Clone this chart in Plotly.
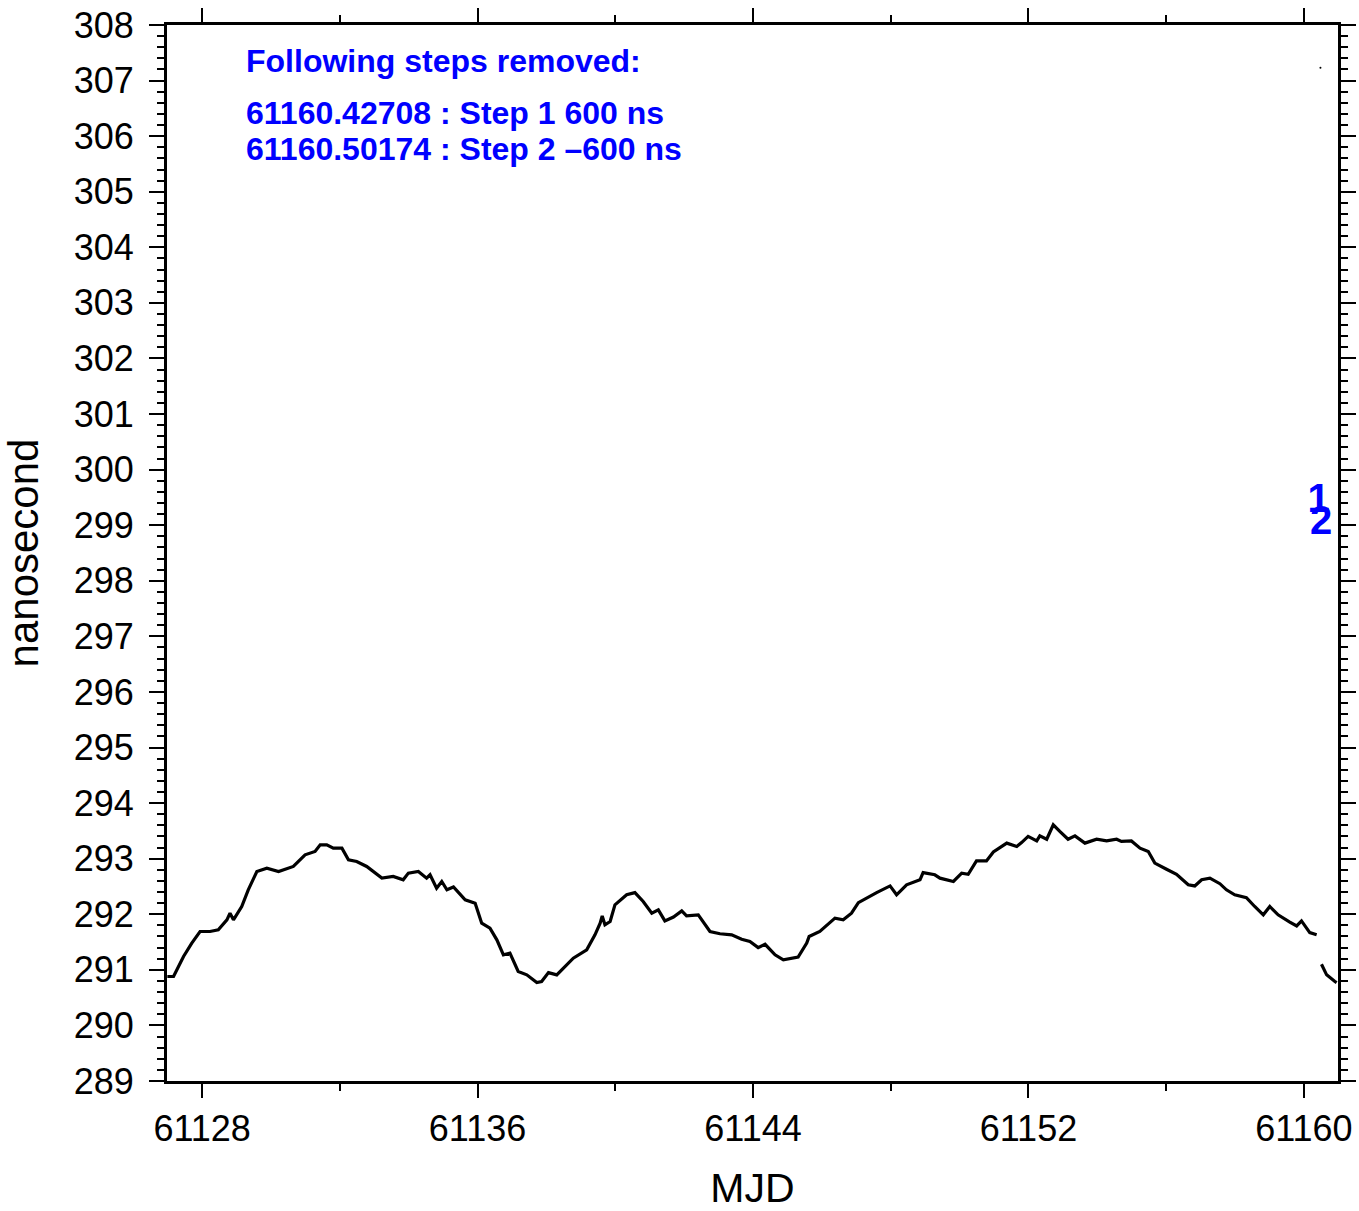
import plotly.graph_objects as go

# ---- data ----
seg1_mjd = [61126.99, 61127.17, 61127.46, 61127.70, 61127.94, 61128.23, 61128.47, 61128.72, 61128.81, 61128.91,
            61129.15, 61129.34, 61129.59, 61129.88, 61130.22, 61130.65, 61130.99, 61131.28, 61131.43, 61131.62,
            61131.81, 61132.06, 61132.25, 61132.49, 61132.78, 61133.22, 61133.55, 61133.84, 61133.99, 61134.28,
            61134.52, 61134.62, 61134.81, 61134.96, 61135.11, 61135.30, 61135.64, 61135.93, 61136.12, 61136.36,
            61136.56, 61136.75, 61136.94, 61137.18, 61137.43, 61137.72, 61137.86, 61138.06, 61138.30, 61138.54,
            61138.78, 61139.17, 61139.41, 61139.56, 61139.62, 61139.70, 61139.85, 61139.99, 61140.33, 61140.57,
            61140.81, 61141.06, 61141.25, 61141.44, 61141.69, 61141.93, 61142.07, 61142.41, 61142.75, 61143.04,
            61143.38, 61143.67, 61143.91, 61144.15, 61144.35, 61144.64, 61144.88, 61145.31, 61145.56, 61145.63,
            61145.94, 61146.38, 61146.62, 61146.86, 61147.06, 61147.59, 61147.98, 61148.17, 61148.46, 61148.85,
            61148.94, 61149.28, 61149.43, 61149.82, 61150.06, 61150.25, 61150.49, 61150.78, 61150.98, 61151.37,
            61151.66, 61151.80, 61151.99, 61152.24, 61152.33, 61152.53, 61152.72, 61152.91, 61153.15, 61153.35,
            61153.64, 61153.98, 61154.27, 61154.56, 61154.70, 61154.99, 61155.24, 61155.48, 61155.67, 61156.01,
            61156.30, 61156.64, 61156.83, 61157.03, 61157.27, 61157.56, 61157.75, 61157.99, 61158.33, 61158.57,
            61158.82, 61159.01, 61159.25, 61159.59, 61159.79, 61159.93, 61160.17, 61160.37]
seg1_ns = [290.88, 290.88, 291.24, 291.48, 291.69, 291.69, 291.72, 291.90, 292.02, 291.90,
           292.14, 292.44, 292.77, 292.83, 292.77, 292.86, 293.07, 293.13, 293.25, 293.25,
           293.19, 293.19, 292.98, 292.95, 292.86, 292.65, 292.68, 292.62, 292.74, 292.77,
           292.65, 292.71, 292.47, 292.59, 292.44, 292.49, 292.26, 292.20, 291.84, 291.75,
           291.54, 291.27, 291.30, 290.97, 290.91, 290.77, 290.79, 290.95, 290.91, 291.06,
           291.21, 291.36, 291.63, 291.84, 291.97, 291.81, 291.87, 292.17, 292.35, 292.39,
           292.23, 292.02, 292.08, 291.88, 291.95, 292.06, 291.97, 291.99, 291.69, 291.65,
           291.63, 291.55, 291.51, 291.40, 291.46, 291.27, 291.18, 291.23, 291.48, 291.60,
           291.69, 291.93, 291.90, 292.02, 292.21, 292.39, 292.51, 292.35, 292.53, 292.62,
           292.75, 292.71, 292.65, 292.59, 292.74, 292.72, 292.96, 292.96, 293.12, 293.28,
           293.22, 293.29, 293.40, 293.32, 293.41, 293.35, 293.61, 293.49, 293.35, 293.41,
           293.28, 293.35, 293.32, 293.35, 293.31, 293.32, 293.19, 293.13, 292.92, 292.81,
           292.72, 292.53, 292.51, 292.62, 292.65, 292.55, 292.44, 292.35, 292.30, 292.14,
           291.99, 292.14, 291.99, 291.86, 291.79, 291.88, 291.67, 291.63]

seg2_mjd = [61160.51, 61160.66, 61160.90, 61160.95]
seg2_ns = [291.10, 290.91, 290.79, 290.77]

# single isolated point between the two steps
iso_mjd = [61160.48]
iso_ns = [307.23]

step_mjd = [61160.42708, 61160.50174]
step_ns = [600, -600]
step_ids = ["1", "2"]
step_label_y = [299.42, 299.02]

x_range = [61126.98, 61160.99]
y_range = [289, 308]
x_tick0, x_dtick = 61128, 8
y_dtick = 1

FONT = "Liberation Sans, Arial, Helvetica, sans-serif"
BLUE = "#0000ff"

fig = go.Figure()
fig.add_trace(go.Scatter(x=seg1_mjd, y=seg1_ns, mode="lines",
                         line=dict(color="black", width=3.2), showlegend=False, hoverinfo="skip"))
fig.add_trace(go.Scatter(x=seg2_mjd, y=seg2_ns, mode="lines",
                         line=dict(color="black", width=3.2), showlegend=False, hoverinfo="skip"))
fig.add_trace(go.Scatter(x=iso_mjd, y=iso_ns, mode="markers",
                         marker=dict(color="black", size=2), showlegend=False, hoverinfo="skip"))
fig.add_trace(go.Scatter(x=step_mjd, y=step_label_y, mode="text", text=[f"<b>{s}</b>" for s in step_ids],
                         textfont=dict(family=FONT, size=40, color=BLUE), textposition="middle center",
                         showlegend=False, hoverinfo="skip"))

lines = ["<b>Following steps removed:</b>"]
for m, s, v in zip(step_mjd, step_ids, step_ns):
    vs = f"{v}" if v >= 0 else f"\u2013{abs(v)}"
    lines.append(f"<b>{m:.5f} : Step {s} {vs} ns</b>")

ann_y = [0.9659, 0.9167, 0.8826]
for txt, yy in zip(lines, ann_y):
    fig.add_annotation(x=0.066, y=yy, xref="paper", yref="paper", text=txt,
                       showarrow=False, xanchor="left", yanchor="middle",
                       font=dict(family=FONT, size=32, color=BLUE))

fig.update_xaxes(range=x_range, tick0=x_tick0, dtick=x_dtick, ticks="outside", ticklen=14, tickwidth=2,
                 tickcolor="black", showline=True, linewidth=3, linecolor="black", mirror="ticks",
                 showgrid=False, zeroline=False, tickformat="d", ticklabelstandoff=0,
                 ticklabeloverflow="allow",
                 tickfont=dict(family=FONT, size=36, color="black"),
                 minor=dict(dtick=4, tick0=x_tick0, ticks="outside", ticklen=7, tickwidth=1.5, tickcolor="black",
                            showgrid=False),
                 title=dict(text="MJD", font=dict(family=FONT, size=41, color="black"), standoff=47))
fig.update_yaxes(range=y_range, dtick=y_dtick, ticks="outside", ticklen=15, tickwidth=2,
                 tickcolor="black", showline=True, linewidth=3, linecolor="black", mirror="ticks",
                 showgrid=False, zeroline=False, ticklabelstandoff=8,
                 ticklabeloverflow="allow",
                 tickfont=dict(family=FONT, size=36, color="black"),
                 minor=dict(dtick=0.2, ticks="outside", ticklen=7, tickwidth=1.5, tickcolor="black",
                            showgrid=False),
                 title=dict(text="nanosecond", font=dict(family=FONT, size=42, color="black"), standoff=32))

fig.update_layout(width=1359, height=1211, margin=dict(l=167, r=21, t=25, b=130, autoexpand=False),
                  plot_bgcolor="white", paper_bgcolor="white", font=dict(family=FONT))

fig.write_html("out.html", config={"displayModeBar": False},
               post_script="document.body.style.margin='0';document.body.style.overflow='hidden';")
